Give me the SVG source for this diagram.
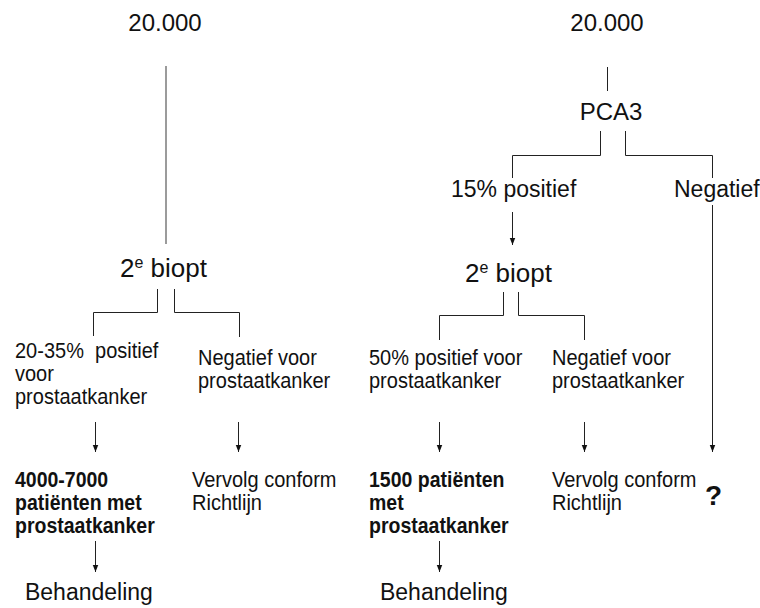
<svg xmlns="http://www.w3.org/2000/svg" width="760" height="608" viewBox="0 0 760 608">
<defs>
<marker id="a" markerUnits="userSpaceOnUse" markerWidth="8" markerHeight="10" refX="9" refY="4" orient="auto" viewBox="0 0 10 8">
<path d="M0,0.5 L9,4 L0,7.5 Z" fill="#111"/>
</marker>
<style>
text{font-family:"Liberation Sans",Arial,sans-serif;fill:#111;white-space:pre}
.t{font-size:24px}
.m{font-size:20px}
.b{font-size:19.5px;font-weight:bold}
.l{font-size:23px}
.c{stroke:#222;stroke-width:1;fill:none}
.g{stroke:#7a7a7a;stroke-width:1.5;fill:none}
.ar{stroke:#222;stroke-width:1;fill:none;marker-end:url(#a)}
</style>
</defs>
<g id="connectors">
<line class="g" x1="166" y1="66" x2="166" y2="244"/>
<path class="c" d="M157.5,289 V312.5 H93.5 V336"/>
<path class="c" d="M174.5,289 V312.5 H239.5 V337"/>
<line class="ar" x1="95.5" y1="422" x2="95.5" y2="452"/>
<line class="ar" x1="238.5" y1="422" x2="238.5" y2="452"/>
<line class="ar" x1="95.5" y1="541" x2="95.5" y2="572"/>
<line class="c" x1="607.5" y1="67" x2="607.5" y2="91"/>
<path class="c" d="M600.5,131 V155.5 H512.5 V178"/>
<path class="c" d="M625.5,131 V155.5 H712.5 V178"/>
<line class="ar" x1="512.5" y1="212" x2="512.5" y2="245"/>
<path class="c" d="M503.5,292 V315.5 H439.5 V340"/>
<path class="c" d="M518.5,292 V315.5 H584.5 V340"/>
<line class="ar" x1="439.5" y1="422" x2="439.5" y2="452"/>
<line class="ar" x1="584.5" y1="422" x2="584.5" y2="452"/>
<line class="ar" x1="712.5" y1="205" x2="712.5" y2="452"/>
<line class="ar" x1="439.5" y1="541" x2="439.5" y2="572"/>
</g>
<g id="n-left-top"><text class="t" x="165" y="31" text-anchor="middle">20.000</text></g>
<g id="n-left-biopt"><text x="120" y="277" font-size="26">2<tspan font-size="16" dy="-9">e</tspan><tspan dy="9"> biopt</tspan></text></g>
<g id="n-left-pos" transform="matrix(1,0,0,1.1,0,-35.8)"><text class="m" x="15" y="358">20-35%  positief</text><text class="m" x="15" y="379">voor</text><text class="m" x="15" y="400">prostaatkanker</text></g>
<g id="n-left-neg" transform="matrix(1,0,0,1.1,0,-36.5)"><text class="m" x="198" y="365">Negatief voor</text><text class="m" x="198" y="386">prostaatkanker</text></g>
<g id="n-left-pat" transform="matrix(1,0,0,1.1,0,-48.7)"><text class="b" x="15" y="487">4000-7000</text><text class="b" x="15" y="508">patiënten met</text><text class="b" x="15" y="529">prostaatkanker</text></g>
<g id="n-left-verv" transform="matrix(1,0,0,1.1,0,-48.7)"><text class="m" x="192" y="487">Vervolg conform</text><text class="m" x="192" y="508">Richtlijn</text></g>
<g id="n-left-beh" transform="matrix(1,0,0,1.08,0,-48)"><text class="l" x="25" y="600" font-size="22">Behandeling</text></g>
<g id="n-right-top"><text class="t" x="607" y="31" text-anchor="middle">20.000</text></g>
<g id="n-pca3"><text class="t" x="611" y="120" text-anchor="middle">PCA3</text></g>
<g id="n-15"><text class="l" x="451" y="197">15% positief</text></g>
<g id="n-negatief"><text class="l" x="674" y="197">Negatief</text></g>
<g id="n-right-biopt"><text x="465" y="282" font-size="26">2<tspan font-size="16" dy="-9">e</tspan><tspan dy="9"> biopt</tspan></text></g>
<g id="n-right-pos" transform="matrix(1,0,0,1.1,0,-36.5)"><text class="m" x="369" y="365">50% positief voor</text><text class="m" x="369" y="386">prostaatkanker</text></g>
<g id="n-right-neg" transform="matrix(1,0,0,1.1,0,-36.5)"><text class="m" x="552" y="365">Negatief voor</text><text class="m" x="552" y="386">prostaatkanker</text></g>
<g id="n-right-pat" transform="matrix(1,0,0,1.1,0,-48.7)"><text class="b" x="369" y="487">1500 patiënten</text><text class="b" x="369" y="508">met</text><text class="b" x="369" y="529">prostaatkanker</text></g>
<g id="n-right-verv" transform="matrix(1,0,0,1.1,0,-48.7)"><text class="m" x="552" y="487">Vervolg conform</text><text class="m" x="552" y="508">Richtlijn</text></g>
<g id="n-q"><text x="705" y="505" font-size="28" font-weight="bold">?</text></g>
<g id="n-right-beh" transform="matrix(1,0,0,1.08,0,-48)"><text class="l" x="380" y="600" font-size="22">Behandeling</text></g>
</svg>
